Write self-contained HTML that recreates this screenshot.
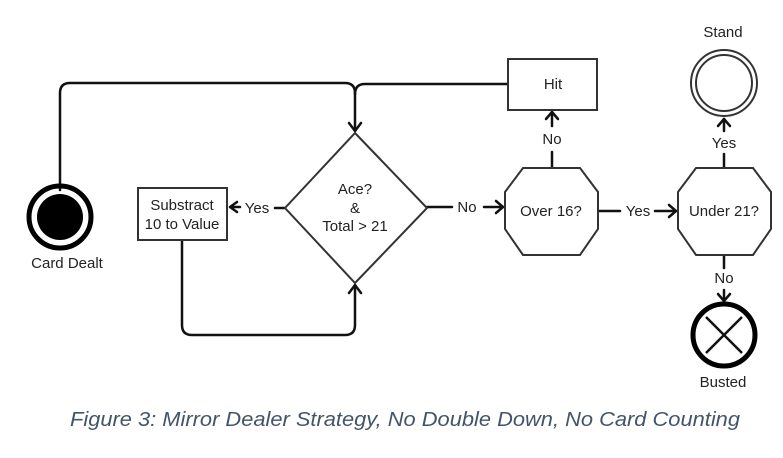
<!DOCTYPE html>
<html><head><meta charset="utf-8"><style>
html,body{margin:0;padding:0;background:#fff;}
svg{display:block;}
text{font-family:"Liberation Sans",sans-serif;font-size:15px;fill:#222;}
</style></head><body>
<svg width="783" height="458" viewBox="0 0 783 458" xmlns="http://www.w3.org/2000/svg">
<g fill="none" stroke="#111" stroke-width="2.5" stroke-linejoin="round" stroke-linecap="round">
  <path d="M60,190 V93 Q60,83 70,83 H345 Q355,83 355,93 V131"/>
  <path d="M508,84 H365 Q355,84 355,94"/>
  <path d="M349,123 L355,131 L361,123"/>
  <path d="M285,208 H275"/>
  <path d="M237,202 L230,207 L237,212 M230,207 H240"/>
  <path d="M182,240 V325 Q182,335 192,335 H345 Q355,335 355,325 V285"/>
  <path d="M349,293 L355,285 L361,293"/>
  <path d="M427,207 H452 M484,207 H503"/>
  <path d="M496,201 L503,207 L496,213"/>
  <path d="M552,168 V152 M552,126 V112"/>
  <path d="M546,119 L552,112 L558,119"/>
  <path d="M598,211 H620 M655,211 H676"/>
  <path d="M669,205 L676,211 L669,217"/>
  <path d="M724,168 V154 M724,131 V119"/>
  <path d="M718,126 L724,119 L730,126"/>
  <path d="M724,255 V268 M724,290 V301"/>
  <path d="M718,294 L724,301 L730,294"/>
</g>
<circle cx="60" cy="217" r="31" fill="none" stroke="#000" stroke-width="5"/>
<circle cx="60" cy="217" r="23" fill="#000"/>
<text x="67" y="268" text-anchor="middle">Card Dealt</text>
<rect x="138" y="188" width="89" height="52" fill="#fff" stroke="#333" stroke-width="2"/>
<text x="182" y="210" text-anchor="middle">Substract</text>
<text x="182" y="229" text-anchor="middle">10 to Value</text>
<text x="257" y="213" text-anchor="middle">Yes</text>
<polygon points="355,133 427,208 355,283 285,208" fill="#fff" stroke="#333" stroke-width="2"/>
<text x="355" y="194" text-anchor="middle">Ace?</text>
<text x="355" y="213" text-anchor="middle">&amp;</text>
<text x="355" y="231" text-anchor="middle">Total &gt; 21</text>
<text x="467" y="212" text-anchor="middle">No</text>
<rect x="508" y="59" width="89" height="51" fill="#fff" stroke="#333" stroke-width="2"/>
<text x="553" y="89" text-anchor="middle">Hit</text>
<text x="552" y="144" text-anchor="middle">No</text>
<polygon points="523,168 580,168 598,192 598,229 580,255 523,255 505,229 505,192" fill="#fff" stroke="#333" stroke-width="2"/>
<text x="551" y="216" text-anchor="middle">Over 16?</text>
<text x="638" y="216" text-anchor="middle">Yes</text>
<polygon points="696,168 753,168 771,192 771,229 753,255 696,255 678,229 678,192" fill="#fff" stroke="#333" stroke-width="2"/>
<text x="724" y="216" text-anchor="middle">Under 21?</text>
<text x="723" y="37" text-anchor="middle">Stand</text>
<circle cx="724" cy="83" r="33" fill="none" stroke="#333" stroke-width="2"/>
<circle cx="724" cy="83" r="28" fill="none" stroke="#333" stroke-width="2"/>
<text x="724" y="148" text-anchor="middle">Yes</text>
<text x="724" y="283" text-anchor="middle">No</text>
<circle cx="724" cy="335" r="31" fill="none" stroke="#000" stroke-width="5"/>
<path d="M706,317 L742,353 M742,317 L706,353" stroke="#111" stroke-width="2.5"/>
<text x="723" y="387" text-anchor="middle">Busted</text>
<text x="70" y="426" textLength="670" lengthAdjust="spacingAndGlyphs" style="font-style:italic;font-size:20px;fill:#44546a;">Figure 3:  Mirror Dealer Strategy, No Double Down, No Card Counting</text>
</svg>
</body></html>
